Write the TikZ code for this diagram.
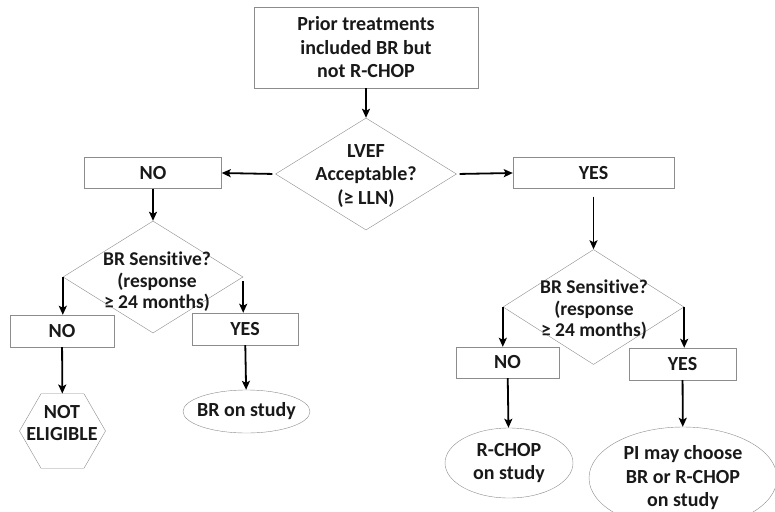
\documentclass[tikz,border=0pt]{standalone}
\usepackage{fontspec}
\setmainfont{Carlito}[Ligatures=NoCommon]
\usetikzlibrary{arrows.meta,shapes.geometric}

\begin{document}
\begin{tikzpicture}[
  x=1pt, y=-1pt,
  font=\fontsize{20}{23.5}\selectfont\bfseries,
  box/.style={draw=black!45, rectangle, inner sep=0pt, align=center, text=black!90},
  decision/.style={draw=black!45, diamond, inner sep=0pt},
  qtext/.style={align=center, inner sep=0pt, text=black!90,
                font=\fontsize{19.5}{21.5}\selectfont\bfseries},
  outcome/.style={draw=black!45, ellipse, inner sep=0pt, align=center, text=black!90},
  stopshape/.style={draw=black!45, regular polygon, regular polygon sides=6,
                    inner sep=0pt, minimum size=86pt},
  arrow/.style={-{Stealth[length=9pt, width=8pt, inset=2pt]}, line width=1.8pt},
]
  \useasboundingbox (0,0) rectangle (775,511);

  \node[box, minimum width=224pt, minimum height=81pt] (prior) at (366,47.5)
    {Prior treatments\\included BR but\\not R-CHOP};
  \node[decision, minimum width=181pt, minimum height=112pt] (lvef) at (366,174) {};
  \node[qtext, font=\fontsize{20}{23.5}\selectfont\bfseries] (lvefText) at (366,176)
    {LVEF\\Acceptable?\\(≥ LLN)};
  \draw[arrow] (prior) -- (lvef);

  \node[box, minimum width=137pt, minimum height=31pt] (noL) at (153,173) {NO};
  \node[box, minimum width=161pt, minimum height=31pt] (yesR) at (593.5,173) {YES};
  \draw[arrow, shorten <=3pt] (lvef.west) -- (noL.east);
  \draw[arrow, shorten <=3pt] (lvef.east) -- (yesR.west);

  % left branch
  \node[decision, minimum width=180pt, minimum height=112pt] (bsL) at (153,277) {};
  \node[qtext] (bsLText) at (157,282) {BR Sensitive?\\(response\\≥ 24 months)};
  \draw[arrow] (noL) -- (bsL);

  \node[box, minimum width=104pt, minimum height=32pt] (noLL) at (62,331) {NO};
  \node[box, minimum width=106pt, minimum height=32pt] (yesLL) at (245,329) {YES};
  \draw[arrow] (bsL.west) -- (bsL.west |- noLL.north);
  \draw[arrow, shorten <=4pt] (bsL.east) -- (bsL.east |- yesLL.north);

  \node[stopshape] (notEligible) at (62.5,431) {};
  \node[qtext, font=\fontsize{20}{22}\selectfont\bfseries] (notEligibleText) at (62,423)
    {NOT\\ELIGIBLE};
  \node[outcome, inner xsep=-8pt, minimum width=127pt, minimum height=43pt] (brStudy)
    at (246.5,411.5) {BR on study};
  \draw[arrow] (noLL) -- (notEligible);
  \draw[arrow] (yesLL) -- (brStudy);

  % right branch
  \node[decision, minimum width=181pt, minimum height=115pt] (bsR) at (593.5,307) {};
  \node[qtext] (bsRText) at (594,310) {BR Sensitive?\\(response\\≥ 24 months)};
  \draw[arrow, shorten <=8pt] (yesR) -- (bsR);

  \node[box, minimum width=103pt, minimum height=31pt] (noRR) at (507.5,362.5) {NO};
  \node[box, minimum width=107pt, minimum height=32pt] (yesRR) at (682.5,364) {YES};
  \draw[arrow] (bsR.west) -- (bsR.west |- noRR.north);
  \draw[arrow] (bsR.east) -- (bsR.east |- yesRR.north);

  \node[outcome, minimum width=128pt, minimum height=70pt] (rchop) at (509,463)
    {R-CHOP\\on study};
  \node[outcome, minimum width=188pt, minimum height=102pt] (piChoose) at (683,478)
    {PI may choose\\BR or R-CHOP\\on study};
  \draw[arrow] (noRR) -- (rchop);
  \draw[arrow] (yesRR) -- (piChoose);
\end{tikzpicture}
\end{document}
